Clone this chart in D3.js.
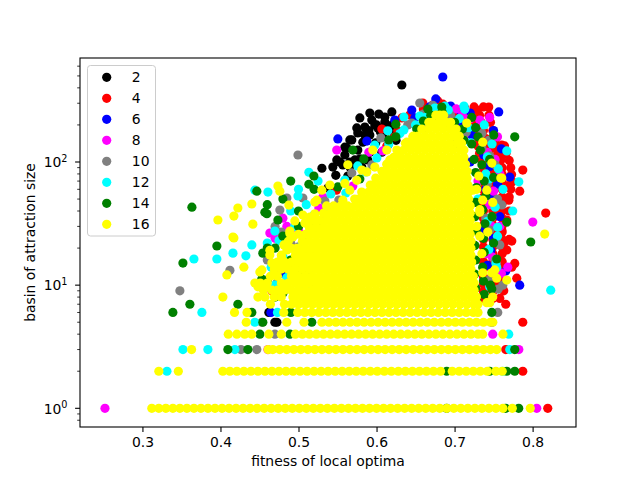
<!DOCTYPE html>
<html><head><meta charset="utf-8">
<script src="https://cdn.jsdelivr.net/npm/d3@7"></script>
<style>body{margin:0;background:#fff} svg{display:block} text{font-family:"DejaVu Sans",sans-serif;fill:#000}</style>
</head><body>
<svg id="c" width="640" height="480"></svg>
<script>
// ---------------- data ----------------
const seriesNames = ["2","4","6","8","10","12","14","16"];
const xTicks = [0.3,0.4,0.5,0.6,0.7,0.8];
const yTicks = [1,10,100];
const yTickExp = ["0","1","2"];
const yMinorTicks = [0.8,0.9,2,3,4,5,6,7,8,9,20,30,40,50,60,70,80,90,200,300,400,500,600];

// series "2" (black)  [fitness, basin size]
const s2 = [[0.6324,422],[0.6029,245],[0.6196,255],[0.5939,219],[0.6106,211],[0.585,192],[0.6016,189],[0.617,189],[0.576,172],[0.5914,166],[0.608,160],[0.6234,166],[0.5683,151],[0.5824,145],[0.599,143],[0.6144,137],[0.562,130],[0.576,125],[0.5914,120],[0.6068,120],[0.5594,114],[0.5722,104],[0.5888,104],[0.553,100],[0.544,91],[0.53,89],[0.5376,61.5],[0.5658,91],[0.5811,91],[0.5478,78],[0.5632,77],[0.4723,5],[0.462,6],[0.4697,5],[0.6,200],[0.59,180],[0.605,175],[0.625,150],[0.62,200],
[0.5786,228],[0.5914,250],[0.5747,189],[0.585,166],[0.5978,200],[0.6106,232],[0.5658,151],[0.5594,132],[0.5786,106],[0.5658,100],[0.5568,94.6],[0.5491,104]];
// series "4" (red)
const s4 = [[0.6593,301],[0.6785,313],[0.6899,274],[0.7002,255],[0.713,274],[0.7259,223],[0.7323,196],[0.7195,185],[0.7066,219],[0.7438,279],[0.7284,264],[0.6977,228],[0.7169,182],[0.7349,182],[0.7528,157],[0.7605,137],[0.7515,130],[0.7451,114],[0.7617,114],[0.7579,95],[0.7874,86],[0.7707,65],[0.7835,58],[0.7695,49],[0.8168,38.5],[0.7733,22.8],[0.7643,22.4],[0.7669,19.3],[0.7733,14],[0.7797,11.4],[0.763,9],[0.7656,7],[0.7874,5],[0.7656,3],[0.7874,2],[0.8194,1],[0.7771,15],[0.7669,33.8],[0.7553,40.7],[0.7605,28],[0.4659,9],[0.4966,11],[0.6068,185],[0.6272,179],[0.6234,160],[0.6131,135],[0.6426,241],[0.6324,228],[0.5485,59],[0.495,14],
[0.66,270],[0.672,290],[0.685,295],[0.695,260],[0.705,245],[0.715,230],[0.72,210],[0.71,200],[0.69,230],[0.675,255],
[0.725,280],[0.737,280],[0.72,240],[0.732,240],[0.744,240],[0.722,210],[0.734,210],[0.746,210],[0.725,180],[0.737,180],[0.749,180],[0.728,155],[0.74,155],[0.752,155],
[0.73,135],[0.742,135],[0.754,135],[0.764,135],[0.732,118],[0.744,118],[0.756,118],[0.766,118],[0.735,103],[0.747,103],[0.759,103],[0.77,103],
[0.737,90],[0.749,90],[0.761,90],[0.772,90],[0.737,79],[0.749,79],[0.761,79],[0.773,79],[0.737,69],[0.749,69],[0.761,69],[0.774,69],
[0.737,60],[0.749,60],[0.761,60],[0.772,60],[0.737,52],[0.749,52],[0.761,52],[0.77,52],[0.737,46],[0.749,46],[0.761,46],
[0.737,40],[0.749,40],[0.761,40],[0.77,40],[0.737,35],[0.749,35],[0.761,35],[0.737,30.5],[0.749,30.5],[0.761,30.5],
[0.737,27],[0.749,27],[0.761,27],[0.737,23.5],[0.749,23.5],[0.761,23.5],[0.77,23.5],[0.737,20.5],[0.749,20.5],[0.761,20.5],
[0.737,18],[0.749,18],[0.761,18],[0.737,15.5],[0.749,15.5],[0.761,15.5],[0.737,13.5],[0.749,13.5],[0.761,13.5],
[0.737,11.7],[0.749,11.7],[0.758,11.7],[0.737,10.2],[0.749,10.2],[0.758,10.2],[0.737,8.9],[0.749,8.9],[0.737,7.8],[0.749,7.8],[0.758,7.8]];
// series "6" (blue)
const s6 = [[0.6849,490],[0.7566,255],[0.6759,325],[0.5504,154],[0.5876,148],[0.649,228],[0.722,166],[0.7707,75.5],[0.7374,114],[0.7464,19],[0.7656,13],[0.7835,10],[0.7477,5],[0.4646,6],[0.7066,264],[0.6234,219],[0.7,140],[0.72,100],[0.74,60],[0.735,28],
[0.668,280],[0.695,285],[0.72,250],[0.705,205],[0.6452,264],[0.478,12.5],
[0.75,180],[0.76,128],[0.745,92],[0.755,66],[0.748,52],[0.758,36],[0.75,24],[0.742,14.5]];
// series "8" (magenta)
const s8 = [[0.252,1],[0.8002,32.5],[0.549,125],[0.6977,182],[0.7323,219],[0.7682,14],[0.8053,1],[0.7823,3],[0.7489,4],[0.4608,3],[0.4633,26.5],[0.5312,52],[0.7477,30],[0.71,240],[0.69,200],[0.48,35],[0.5,28],[0.52,18],[0.47,13],[0.74,18],[0.73,70],
[0.688,245],[0.702,270],[0.72,225],[0.712,165],
[0.608,123],[0.5696,63.8],[0.5299,33.2],[0.5901,120],[0.5261,42.4],
[0.47,24],[0.505,17],[0.485,30],[0.515,12],
[0.745,230],[0.755,160],[0.742,120],[0.752,105],[0.758,80],[0.75,58],[0.745,45],[0.758,30],[0.748,17],[0.76,12.5]];
// series "10" (gray)
const s10 = [[0.4993,114],[0.4851,51],[0.4761,40.7],[0.5056,51],[0.4121,13.2],[0.4723,10.4],[0.348,9],[0.4262,3],[0.4466,3],[0.4697,4],[0.453,5],[0.6721,289],[0.6619,182],[0.7105,160],[0.7451,112],[0.7605,44.8],[0.7579,21.2],[0.7553,6],[0.7617,10],[0.64,200],[0.695,240],[0.47,30],[0.49,22],[0.5,16],[0.51,12],[0.74,35],[0.735,130],
[0.678,270],[0.66,245],[0.698,215],[0.715,175],
[0.6452,207],[0.594,94.6],[0.5517,49.1],[0.6554,301],[0.6055,157],[0.5683,81.5],[0.5338,48.2],
[0.478,27],[0.46,16],[0.5,20.5],[0.488,13],[0.515,26],
[0.744,150],[0.752,95],[0.742,66],[0.755,50],[0.745,28],[0.752,16],[0.744,11],[0.756,9.3],[0.735,170]];
// series "12" (cyan)
const s12 = [[0.5133,82.6],[0.4608,57],[0.4993,53],[0.4697,27.5],[0.4402,21.2],[0.366,16.3],[0.3954,16.3],[0.416,18.2],[0.4326,17.3],[0.3762,6],[0.3519,3],[0.3839,3],[0.3314,2],[0.4185,3],[0.713,268],[0.7669,123],[0.7823,69],[0.7745,40],[0.7208,143],[0.7553,29.5],[0.7477,35.7],[0.8232,9.1],[0.7694,4],[0.7707,3],[0.7617,2],[0.754,14],[0.6746,274],[0.6875,284],[0.4441,59],[0.46,22],[0.49,40],[0.5,60],[0.525,70],[0.51,45],[0.48,17],[0.47,10],[0.5,9],[0.63,170],[0.65,200],[0.74,80],[0.73,50],[0.444,5],[0.473,6],
[0.67,250],[0.692,265],[0.706,225],[0.718,190],[0.7,180],[0.663,230],[0.712,285],
[0.6554,236],[0.635,182],[0.6157,140],[0.6004,108],[0.5863,83],[0.5607,56],[0.5363,37.8],[0.635,232],[0.6144,179],[0.5978,137],[0.576,93],[0.5594,71.4],[0.5414,55],[0.5197,37.1],
[0.475,23],[0.505,22],[0.485,11.5],[0.465,14],[0.51,9.5],[0.495,30],
[0.738,200],[0.748,140],[0.742,110],[0.756,88],[0.745,73],[0.752,43],[0.742,33],[0.755,25],[0.744,19.5],[0.753,15],[0.745,9.7],[0.762,60]];
// series "14" (green)
const s14 = [[0.3634,43],[0.4466,58],[0.4569,39],[0.5197,77],[0.5133,66],[0.3954,20.8],[0.4736,33.8],[0.3519,15.1],[0.3608,7],[0.339,6],[0.4223,7],[0.4543,18.2],[0.4787,14.6],[0.4095,3],[0.4351,3],[0.4543,5],[0.4402,6],[0.4902,6],[0.4595,38],[0.453,11.2],[0.7771,160],[0.7502,166],[0.7669,32.5],[0.7976,22.4],[0.6836,279],[0.754,16.3],[0.7477,9.3],[0.7477,6],[0.7771,3],[0.7771,2],[0.7669,2],[0.7822,1],[0.7655,1],[0.6899,2],[0.6695,240],[0.6515,185],[0.6157,151],[0.5696,125],[0.5,40],[0.48,25],[0.46,20],[0.52,60],[0.46,45],[0.48,50],[0.51,24],[0.5,13],[0.47,8],[0.52,10],[0.49,70],[0.517,5],[0.745,2],[0.6899,1],[0.4505,4],[0.489,4],
[0.672,230],[0.684,255],[0.7,210],[0.695,190],[0.71,185],[0.66,215],[0.712,150],
[0.6657,269],[0.6247,160],[0.5786,72.8],[0.544,43.1],[0.5248,29.1],[0.6247,203],[0.5837,106],[0.5504,62.7],[0.5146,32.6],
[0.47,20],[0.49,16],[0.5,11],[0.46,11],[0.48,8.6],[0.51,19],[0.5,30],
[0.722,230],[0.727,190],[0.73,160],[0.722,140],[0.733,125],[0.725,105],[0.735,95],[0.727,82],[0.738,70],[0.728,62],[0.74,53],[0.727,47],[0.736,41],[0.726,36],[0.739,31.5],[0.728,27.5],[0.737,24],[0.726,21],[0.738,18.5],[0.727,16],[0.736,14],[0.726,12.3],[0.737,10.8],[0.727,9.5],[0.738,8.4],[0.728,7.5],[0.745,105],[0.75,75],[0.748,36],[0.75,22],[0.746,10]];
// series "16" (yellow): scattered points
const s16 = [[0.3967,33.8],[0.4172,36.4],[0.4223,42.3],[0.4402,45.6],[0.4415,31.3],[0.4172,24.2],[0.4736,63.8],[0.4761,58],[0.4877,44.7],[0.4953,33.2],[0.5209,47.3],[0.5056,37.1],[0.4889,27.5],[0.416,24.6],[0.4082,12.1],[0.43,14],[0.4031,8],[0.4505,12.8],[0.4671,12.1],[0.4813,21.2],[0.448,8],[0.4633,19.2],[0.4659,15.1],[0.4889,26.3],[0.4979,19.9],[0.4787,16.5],[0.4915,12.6],[0.448,9.7],[0.457,8],[0.4825,9.5],[0.5146,15],[0.5209,20],[0.5146,28],[0.5209,38],
[0.5632,95],[0.5811,86],[0.5594,67],[0.5402,65],[0.5299,59],[0.5235,49],[0.5146,35.7],[0.5081,32],[0.4928,24.6],[0.4851,19.3],[0.48,15.1],[0.4633,17.6],[0.4531,13.3],[0.4441,10.4],[0.4569,9.7],[0.4659,9.1],[0.48,9.1],[0.4979,11.6],[0.4928,8],[0.5107,7.2],[0.5235,9.1],[0.5248,14],[0.5312,20.4],[0.5376,24.6],[0.5427,32],[0.5491,40.7],[0.5568,49],[0.5658,59],[0.5747,71],[0.5875,83],[0.5978,91],[0.617,104],[0.6298,118],[0.6388,137],[0.6516,160],[0.5952,125],[0.6131,125],[0.6388,145],[0.6465,160],
[0.7041,154],[0.7156,207],[0.7361,145],[0.7477,98],[0.7592,74],[0.731,77],[0.7489,47],[0.7361,49],[0.7284,60],[0.7413,59],[0.7323,39],[0.7425,27],[0.7284,30],[0.7361,12.6],[0.7477,12.6],[0.8155,26],[0.7605,74],[0.7233,59],[0.7323,41],[0.7515,13.3],[0.754,11.4],[0.7669,11],[0.7451,7.2],[0.7489,8],[0.7413,7.2],[0.7323,25],[0.735,18]];
// series "16" (yellow): dense core, rows of [basin size, fitness values in thousandths]
const s16Rows = [
[240,[676,681,686]],
[210,[667,671,680,689,695]],
[185,[658,667,676,685,694,702]],
[162,[647,653,662,671,680,689,698,706]],
[142,[637,640,649,658,667,676,685,694,703,709]],
[125,[626,635,644,653,662,671,680,689,698,707,712]],
[109,[622,631,640,649,658,667,676,685,694,703,712]],
[96,[613,617,626,635,644,653,662,671,680,689,698,707,714]],
[84,[607,613,622,631,640,649,658,667,676,685,694,703,712,716]],
[74,[599,608,617,626,635,644,653,662,671,680,689,698,707,716]],
[65,[592,595,604,613,622,631,640,649,658,667,676,685,694,703,712,717]],
[57,[581,590,599,608,617,626,635,644,653,662,671,680,689,698,707,716,718]],
[50,[572,577,586,595,604,613,622,631,640,649,658,667,676,685,694,703,712,718]],
[44,[536,545,554,563,572,581,590,599,608,617,626,635,644,653,662,671,680,689,698,707,716,720]],
[38.4,[532,541,550,559,568,577,586,595,604,613,622,631,640,649,658,667,676,685,694,703,712,720]],
[33.7,[518,527,536,545,554,563,572,581,590,599,608,617,626,635,644,653,662,671,680,689,698,707,716,720]],
[29.5,[514,523,532,541,550,559,568,577,586,595,604,613,622,631,640,649,658,667,676,685,694,703,712,720]],
[25.9,[500,509,518,527,536,545,554,563,572,581,590,599,608,617,626,635,644,653,662,671,680,689,698,707,716,720]],
[22.7,[487,505,514,523,532,541,550,559,568,577,586,595,604,613,622,631,640,649,658,667,676,685,694,703,712,721]],
[19.9,[491,500,509,518,527,536,545,554,563,572,581,590,599,608,617,626,635,644,653,662,671,680,689,698,707,716,721]],
[17.5,[478,496,505,514,523,532,541,550,559,568,577,586,595,604,613,622,631,640,649,658,667,676,685,694,703,712,721]],
[15.4,[473,482,491,500,509,518,527,536,545,554,563,572,581,590,599,608,617,626,635,644,653,662,671,680,689,698,707,716,722]],
[13.5,[469,478,487,496,505,514,523,532,541,550,559,568,577,586,595,604,613,622,631,640,649,658,667,676,685,694,703,712,721]],
[11.8,[464,473,491,500,509,518,527,536,545,554,563,572,581,590,599,608,617,626,635,644,653,662,671,680,689,698,707,716,724]],
[10.4,[451,460,478,487,496,505,514,523,532,541,550,559,568,577,586,595,604,613,622,631,640,649,658,667,676,685,694,703,712,721,725]],
[9.1,[455,473,482,491,500,509,518,527,536,545,554,563,572,581,590,599,608,617,626,635,644,653,662,671,680,689,698,707,716,725]],
[8,[469,478,496,505,514,523,532,541,550,559,568,577,586,595,604,613,622,631,640,649,658,667,676,685,694,703,712,721,728]],
[7,[464,482,491,500,509,518,527,536,545,554,563,572,581,590,599,608,617,626,635,644,653,662,671,680,689,698,707,716,725,730]],
[6,[418,434,481,499,508,517,526,535,544,553,562,571,580,589,598,607,616,625,634,643,652,661,670,679,688,697,706,715,724,730]],
[5,[433,485,507,530,539,548,557,566,575,584,593,602,611,620,629,638,647,656,665,674,683,692,701,710,719,728,737,746,749]],
[4,[410,421,431,440,462,478,496,505,514,523,532,541,550,559,568,577,586,595,604,613,622,631,640,649,658,667,676,685,694,703,712,721,730,736,762]],
[3,[363,461,467,476,485,494,503,512,521,530,539,548,557,566,575,584,593,602,611,620,629,638,647,656,665,674,683,692,701,710,719,728,737,746,754]],
[2,[321,346,403,412,421,430,439,448,457,466,475,484,493,502,511,520,529,538,547,556,565,574,583,592,601,610,619,628,637,646,655,664,673,682,697,706,715,724,733,742,753,761]],
[1,[312,321,330,339,348,357,366,375,384,393,402,411,420,429,438,447,456,465,474,483,492,501,510,519,528,537,546,555,564,573,582,591,600,609,618,627,636,645,654,663,672,681,690,699,708,717,726,735,744,753,762,774,797]]
];

// ---------------- drawing ----------------
const colors = ["black","red","blue","magenta","gray","cyan","green","yellow"];
const yellowCore = [];
s16Rows.forEach(r => r[1].forEach(v => yellowCore.push([v/1000, r[0]])));
const allSeries = [s2,s4,s6,s8,s10,s12,s14,s16.concat(yellowCore)];

const L=80, R=576, T=58, B=427;
const svg = d3.select("#c");
const x = d3.scaleLinear().domain([0.2200,0.8556]).range([L,R]);
const y = d3.scaleLog().domain([Math.pow(10,-0.1518), Math.pow(10,2.8445)]).range([B,T]);
const rad = 4.6;

svg.append("defs").append("clipPath").attr("id","clip")
  .append("rect").attr("x",L).attr("y",T).attr("width",R-L).attr("height",B-T);

const plot = svg.append("g").attr("clip-path","url(#clip)");
allSeries.forEach((pts,i) => {
  plot.append("g").selectAll("circle").data(pts).join("circle")
    .attr("cx",d=>x(d[0])).attr("cy",d=>y(d[1])).attr("r",rad).attr("fill",colors[i]);
});

// x axis
const xAxis = d3.axisBottom(x).tickValues(xTicks).tickSize(4.9).tickPadding(5.2).tickFormat(d3.format(".1f"));
const gx = svg.append("g").attr("transform",`translate(0,${B})`).call(xAxis);
gx.select(".domain").remove();
gx.selectAll("line").attr("stroke","#000").attr("stroke-width",1.1);
gx.selectAll("text").attr("font-size","13.9px").attr("font-family","DejaVu Sans").attr("fill","#000");

// y axis major + minor
const gy = svg.append("g");
gy.selectAll("line.maj").data(yTicks).join("line").attr("class","maj")
  .attr("x1",L-4.9).attr("x2",L).attr("y1",d=>y(d)).attr("y2",d=>y(d)).attr("stroke","#000").attr("stroke-width",1.1);
gy.selectAll("line.min").data(yMinorTicks.filter(v=>y(v)>=T && y(v)<=B)).join("line").attr("class","min")
  .attr("x1",L-2.8).attr("x2",L).attr("y1",d=>y(d)).attr("y2",d=>y(d)).attr("stroke","#000").attr("stroke-width",0.8);
yTicks.forEach((v,i) => {
  const t = gy.append("text").attr("x",67.5).attr("y",y(v)+5.2).attr("text-anchor","end").attr("font-size","13.9px");
  t.append("tspan").text("10");
  t.append("tspan").attr("font-size","9.7px").attr("dy",-5.6).text(yTickExp[i]);
});

// frame
svg.append("rect").attr("x",L).attr("y",T).attr("width",R-L).attr("height",B-T)
  .attr("fill","none").attr("stroke","#000").attr("stroke-width",1.1);

// labels
svg.append("text").attr("x",(L+R)/2).attr("y",465.5).attr("text-anchor","middle").attr("font-size","13.9px").text("fitness of local optima");
svg.append("text").attr("transform",`translate(35,${(T+B)/2}) rotate(-90)`).attr("text-anchor","middle").attr("font-size","13.9px").text("basin of attraction size");

// legend
const lg = svg.append("g");
lg.append("rect").attr("x",87.5).attr("y",65.5).attr("width",68).attr("height",170.5).attr("rx",3)
  .attr("fill","#fff").attr("fill-opacity",0.8).attr("stroke","#cccccc").attr("stroke-width",1);
seriesNames.forEach((n,i) => {
  const cy = 77.3 + 21*i;
  lg.append("circle").attr("cx",106.7).attr("cy",cy).attr("r",rad).attr("fill",colors[i]);
  lg.append("text").attr("x",131.8).attr("y",cy+5).attr("font-size","13.9px").text(n);
});
</script>
</body></html>
